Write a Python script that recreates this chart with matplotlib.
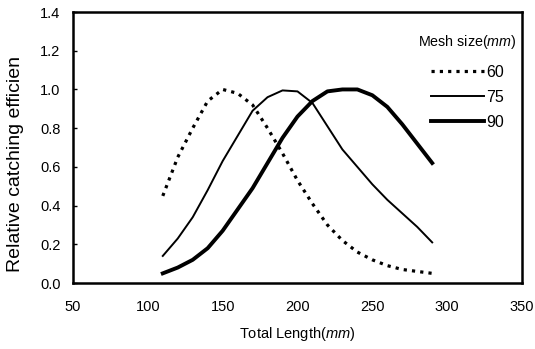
import matplotlib
matplotlib.use("Agg")
import matplotlib.pyplot as plt

plt.rcParams['font.family'] = ['Liberation Sans', 'DejaVu Sans']
plt.rcParams['mathtext.fontset'] = 'custom'
plt.rcParams['mathtext.it'] = 'Liberation Sans:italic'
plt.rcParams['mathtext.rm'] = 'Liberation Sans'

length = [110, 120, 130, 140, 150, 160, 170, 180, 190, 200,
          210, 220, 230, 240, 250, 260, 270, 280, 290]
mesh60 = [0.45, 0.65, 0.80, 0.94, 1.00, 0.98, 0.92, 0.80, 0.67, 0.53,
          0.41, 0.30, 0.22, 0.16, 0.12, 0.09, 0.07, 0.06, 0.05]
mesh75 = [0.14, 0.23, 0.34, 0.48, 0.63, 0.76, 0.89, 0.96, 0.995, 0.99,
          0.93, 0.81, 0.69, 0.60, 0.51, 0.43, 0.36, 0.29, 0.21]
mesh90 = [0.05, 0.08, 0.12, 0.18, 0.27, 0.38, 0.49, 0.62, 0.75, 0.86,
          0.94, 0.99, 1.00, 1.00, 0.97, 0.91, 0.82, 0.72, 0.62]
labels = ['60', '75', '90']

fig = plt.figure(figsize=(5.35, 3.49), dpi=100)
ax = fig.add_axes([0.1364, 0.189, 0.8393, 0.7766])

ax.plot(length, mesh60, color='black', lw=2.3, linestyle=(0, (1.0, 1.6)), label=labels[0])
ax.plot(length, mesh75, color='black', lw=1.4, label=labels[1])
ax.plot(length, mesh90, color='black', lw=2.8, label=labels[2])

ax.set_xlim(50, 350)
ax.set_ylim(0, 1.4)
ax.set_xticks([50, 100, 150, 200, 250, 300, 350])
ax.set_yticks([0.0, 0.2, 0.4, 0.6, 0.8, 1.0, 1.2, 1.4])
ax.set_yticklabels(['0.0', '0.2', '0.4', '0.6', '0.8', '1.0', '1.2', '1.4'])
ax.tick_params(axis='y', direction='in', length=3, width=1, labelsize=10.5, pad=9)
ax.tick_params(axis='x', length=0, labelsize=10.5, pad=12)
for s in ax.spines.values():
    s.set_linewidth(1.8)

ax.set_xlabel(r'Total Length($\it{mm}$)', fontsize=10.5, labelpad=8)
ax.set_ylabel('Relative catching efficien', fontsize=14)
ax.yaxis.set_label_coords(-0.11, 0.44)

leg = ax.legend(title=r'Mesh size($\it{mm}$)', frameon=False, loc='upper right',
                bbox_to_anchor=(1.021, 0.975), handlelength=3.3, handletextpad=0.15,
                labelspacing=0.62, fontsize=11.5, title_fontsize=10.3, alignment='center')
leg._legend_box.sep = 10

fig.savefig('out.png', dpi=100)
